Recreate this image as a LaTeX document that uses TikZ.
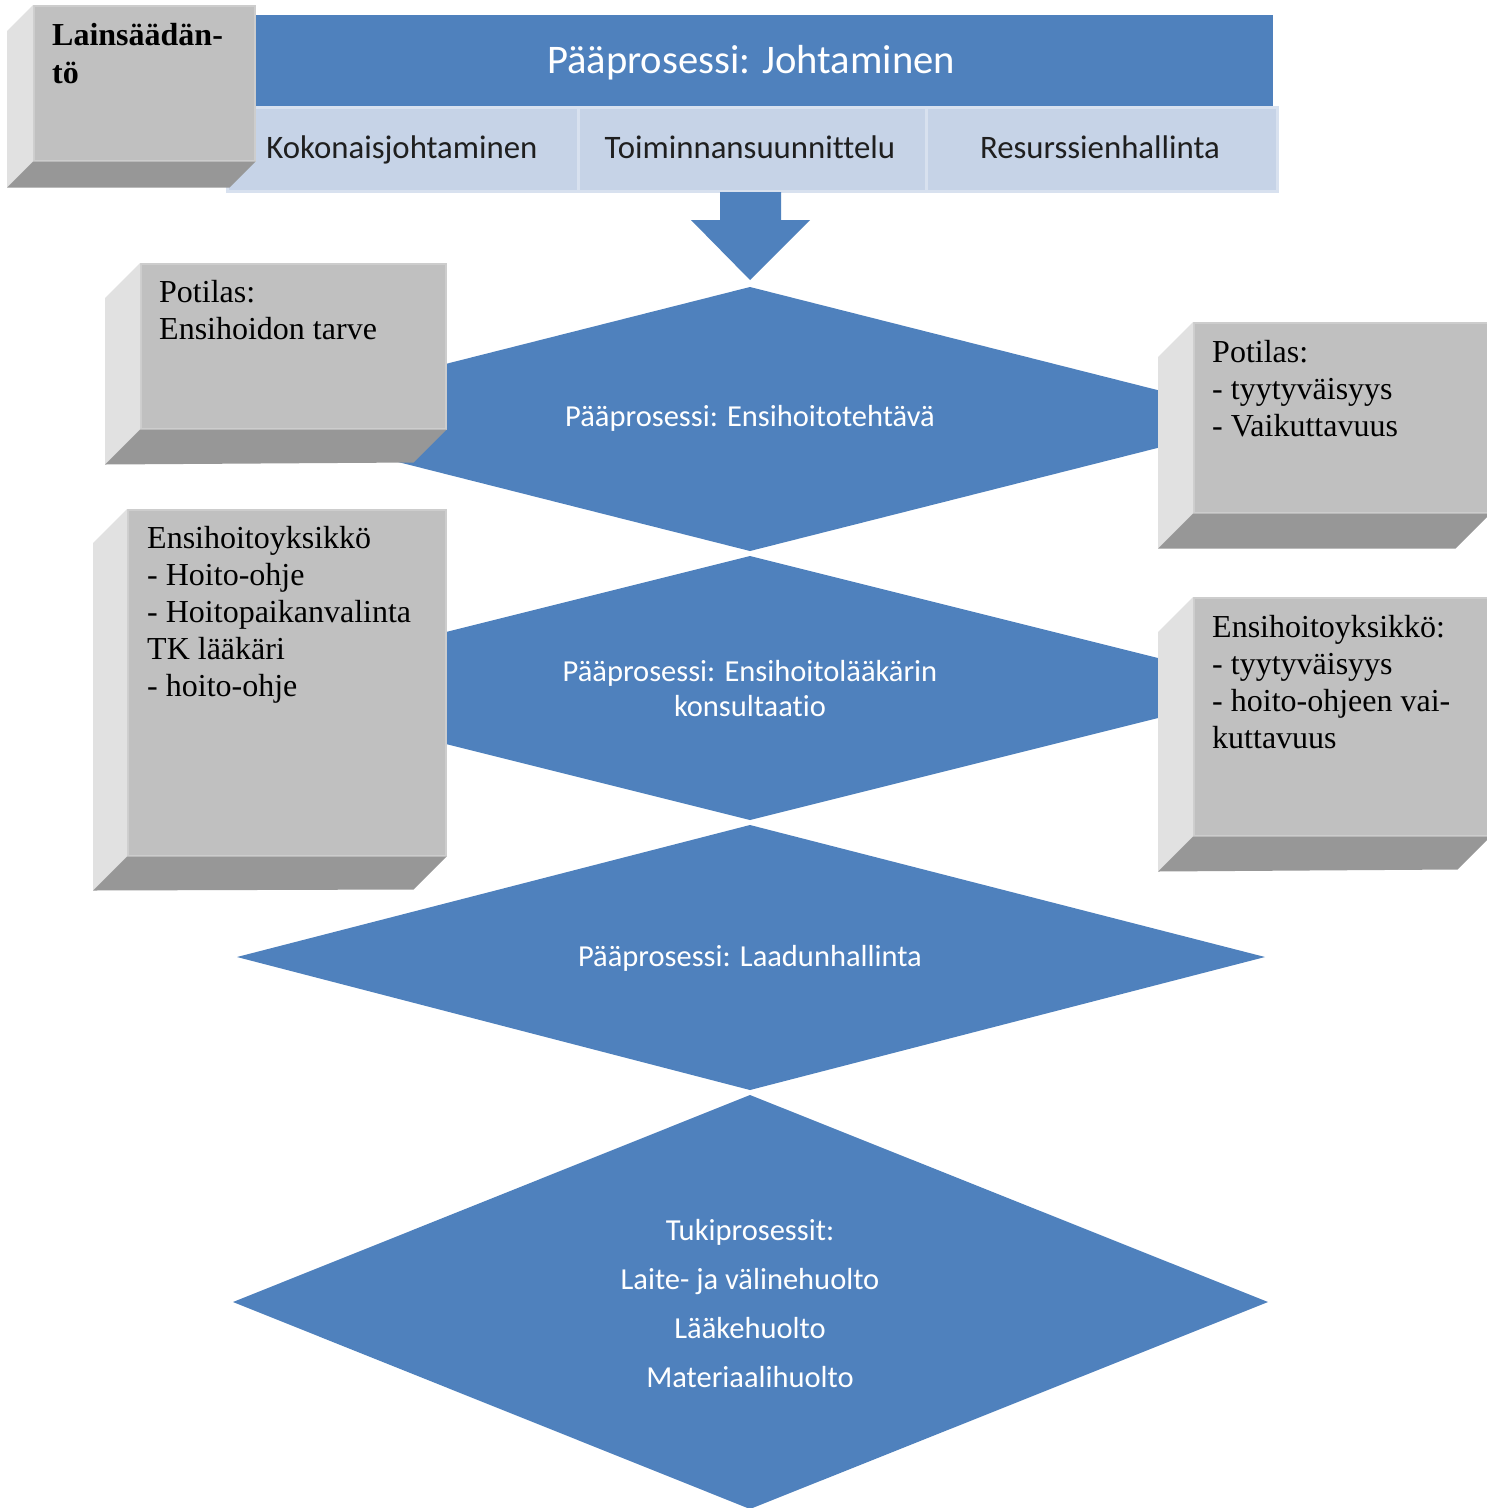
\documentclass[tikz,border=0pt]{standalone}
\usepackage{fontspec}
\setmainfont{Liberation Serif}
\newfontfamily\carlito[Ligatures=NoCommon]{Carlito}
\usetikzlibrary{calc}

\definecolor{procblue}{HTML}{4F81BD}
\definecolor{celllight}{HTML}{C6D3E7}
\definecolor{cellrule}{HTML}{D8E1EF}
\definecolor{facefront}{HTML}{C0C0C0}
\definecolor{faceedge}{HTML}{CDCDCD}
\definecolor{faceside}{HTML}{E1E1E1}
\definecolor{facebottom}{HTML}{979797}

\tikzset{
  front/.style={fill=facefront, draw=faceedge, line width=1.5pt, inner sep=0pt, anchor=north west},
  % multi-line text: the base anchor sits on the last line's baseline
  boxtext/.style={inner sep=0pt, anchor=base west, align=left, text=black,
                  font=\fontsize{32}{37}\selectfont},
  celltext/.style={inner sep=0pt, anchor=base, text=black!88, font=\carlito\fontsize{32.8}{38}\selectfont},
  headtext/.style={inner sep=0pt, anchor=base, text=white, font=\carlito\fontsize{40.6}{46}\selectfont},
  proctext/.style={inner sep=0pt, text=white, align=center, font=\carlito\fontsize{30.5}{35}\selectfont},
  cell/.style={fill=celllight, draw=cellrule, line width=3pt, inner sep=0pt, anchor=north west,
               minimum height=84pt},
}

% a raised box: front face node plus side face of depth #2 and bottom face of depth #3
\newcommand\raisedbox[3]{%
  \fill[faceside] (#1.north west) -- ++(-#2,#2) -- ($(#1.south west)+(-#2,#2)$)
        -- (#1.south west) -- cycle;
  \fill[facebottom] (#1.south west) -- (#1.south east) -- ++(-#3,#3)
        -- ($(#1.south west)+(-#2,#2)$) -- cycle;
}

\begin{document}
\begin{tikzpicture}[x=1pt,y=-1pt]
\useasboundingbox[fill=white] (0,0) rectangle (1487,1508);

% ---- management header ----
\node[fill=procblue, inner sep=0pt, anchor=north west, minimum width=1047pt, minimum height=92pt]
  (mgmt) at (226,15) {};
\node[headtext] (mgmt-t) at (751,73) {Pääprosessi: Johtaminen};
\node[cell, minimum width=351pt] (c1) at (226,106) {};
\node[cell, minimum width=348pt] (c2) at (577,106) {};
\node[cell, minimum width=351pt] (c3) at (925,106) {};
\node[celltext] (c1-t) at (402,158) {Kokonaisjohtaminen};
\node[celltext] (c2-t) at (750,158) {Toiminnansuunnittelu};
\node[celltext] (c3-t) at (1100,158) {Resurssienhallinta};

% ---- block arrow down ----
\coordinate (arr-top) at (750,192);
\coordinate (arr-tip) at (750,280);
\fill[procblue] ($(arr-top)+(-30,0)$) -- ($(arr-top)+(31,0)$) -- ++(0,28) -- ++(29,0)
   -- (arr-tip) -- ($(arr-top)+(-59,28)$) -- ++(29,0) -- cycle;

% ---- process diamonds ----
\coordinate (d1) at (750,419);
\coordinate (d2) at (750,688);
\coordinate (d3) at (750,957);
\coordinate (d4) at (750,1302);
\fill[procblue] ($(d1)+(0,-132)$) -- ($(d1)+(522,0)$) -- ($(d1)+(0,132)$) -- ($(d1)+(-522,0)$) -- cycle;
\fill[procblue] ($(d2)+(0,-132)$) -- ($(d2)+(528,0)$) -- ($(d2)+(0,132)$) -- ($(d2)+(-528,0)$) -- cycle;
\fill[procblue] ($(d3)+(0,-132)$) -- ($(d3)+(515,0)$) -- ($(d3)+(0,133)$) -- ($(d3)+(-513,0)$) -- cycle;
\fill[procblue] ($(d4)+(0,-207)$) -- ($(d4)+(518,0)$) -- ($(d4)+(0,207)$) -- ($(d4)+(-517,0)$) -- cycle;

\node[proctext] (d1-t) at (750,418) {Pääprosessi: Ensihoitotehtävä};
\node[proctext] (d2-t) at (750,689) {Pääprosessi: Ensihoitolääkärin\\konsultaatio};
\node[proctext] (d3-t) at (750,958) {Pääprosessi: Laadunhallinta};
\node[proctext, font=\carlito\fontsize{30.5}{49}\selectfont] (d4-t) at (750,1304)
  {Tukiprosessit:\\Laite- ja välinehuolto\\Lääkehuolto\\Materiaalihuolto};

% ---- raised grey boxes ----
\node[front, minimum width=221pt, minimum height=155pt] (law) at (33,5) {};
\raisedbox{law}{26}{26}
\node[boxtext, font=\bfseries\fontsize{32}{38}\selectfont] (law-t) at (52,83) {Lainsäädän-\\tö};

\node[front, minimum width=305pt, minimum height=165pt] (pin) at (140,263) {};
\raisedbox{pin}{35}{33}
\node[boxtext] (pin-t) at (159,339) {Potilas:\\Ensihoidon tarve};

\node[front, minimum width=318pt, minimum height=346pt] (uin) at (127,509) {};
\raisedbox{uin}{34}{33}
\node[boxtext] (uin-t) at (147,696) {Ensihoitoyksikkö\\- Hoito-ohje\\- Hoitopaikanvalinta\\TK lääkäri\\- hoito-ohje};

\node[front, minimum width=296pt, minimum height=190pt] (pout) at (1193,322) {};
\raisedbox{pout}{35}{35}
\node[boxtext] (pout-t) at (1212,436) {Potilas:\\- tyytyväisyys\\- Vaikuttavuus};

\node[front, minimum width=296pt, minimum height=238pt] (uout) at (1193,597) {};
\raisedbox{uout}{35}{33}
\node[boxtext] (uout-t) at (1212,748) {Ensihoitoyksikkö:\\- tyytyväisyys\\- hoito-ohjeen vai-\\kuttavuus};
\end{tikzpicture}
\end{document}
